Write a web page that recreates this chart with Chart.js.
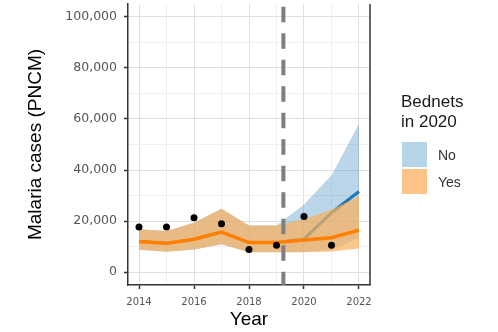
<!DOCTYPE html>
<html>
<head>
<meta charset="utf-8">
<script src="https://cdn.jsdelivr.net/npm/chart.js@4/dist/chart.umd.min.js"></script>
<style>
  html, body { margin: 0; padding: 0; background: #fff; }
  #wrap { position: relative; width: 498px; height: 332px; }
  #legend { position: absolute; left: 401px; top: 92px; font-family: "Liberation Sans", Arial, sans-serif; color: #1a1a1a; }
  #legend .title { font-size: 17px; line-height: 20px; }
  #legend .items { margin-top: 10px; }
  #legend .row { display: flex; align-items: center; height: 25px; margin-bottom: 2px; }
  #legend .key { width: 25px; height: 25px; margin-left: 1px; }
  #legend .lab { font-size: 14px; margin-left: 11px; color: #333; }
</style>
</head>
<body>
<div id="wrap">
  <canvas id="c" width="498" height="332"></canvas>
  <div id="legend">
    <div class="title">Bednets<br>in 2020</div>
    <div class="items">
      <div class="row"><div class="key" style="background:rgb(180,212,232)"></div><span class="lab">No</span></div>
      <div class="row"><div class="key" style="background:rgb(253,196,135)"></div><span class="lab">Yes</span></div>
    </div>
  </div>
</div>
<script>
// Annual model years and observed case counts
const years = [2014, 2015, 2016, 2017, 2018, 2019, 2020, 2021, 2022];
const observedYears = [2014, 2015, 2016, 2017, 2018, 2019, 2020, 2021];
const observedCases = [17700, 17700, 21300, 19000, 8900, 10600, 21800, 10600];

// Scenario "Yes": bednets distributed in 2020
const yesMid  = [12000, 11300, 12900, 15700, 11600, 11600, 12600, 13500, 16500];
const yesLow  = [8800, 8000, 8900, 11000, 7800, 7800, 7800, 8100, 9300];
const yesHigh = [16800, 16100, 19400, 24800, 18300, 18300, 20700, 24500, 29700];

// Scenario "No": no bednets in 2020
const noMid  = [12000, 11300, 12900, 15700, 11600, 11600, 13000, 23300, 31600];
const noLow  = [8800, 8000, 8900, 11000, 7800, 7800, 7900, 8600, 13500];
const noHigh = [16800, 16100, 19400, 24800, 18300, 18300, 26500, 38000, 58100];

// Axis ticks
const xTicks = [2014, 2015, 2016, 2017, 2018, 2019, 2020, 2021, 2022];
const xTickLabels = ['2014', '2016', '2018', '2020', '2022'];
const yTicks = [0, 10000, 20000, 30000, 40000, 50000, 60000, 70000, 80000, 90000, 100000];
const yTickLabels = ['0', '20,000', '40,000', '60,000', '80,000', '100,000'];

const interventionYear = 2019.25;
const xRange = [2013.6, 2022.4];
const yRange = [-5000, 105000];

const pts = (xs, ys) => xs.map((x, i) => ({ x, y: ys[i] }));

const BLUE = '#1f78b4';
const ORANGE = '#ff7f00';

const datasets = [
  { data: pts(years, noLow), borderWidth: 0, borderColor: 'transparent', pointRadius: 0, fill: false },
  { data: pts(years, noHigh), borderWidth: 0, borderColor: 'transparent', pointRadius: 0,
    fill: { target: 0 }, backgroundColor: 'rgba(31,120,180,0.3)' },
  { data: pts(years, noMid), borderColor: BLUE, borderWidth: 3, pointRadius: 0, fill: false },
  { data: pts(years, yesLow), borderWidth: 0, borderColor: 'transparent', pointRadius: 0, fill: false },
  { data: pts(years, yesHigh), borderWidth: 0, borderColor: 'transparent', pointRadius: 0,
    fill: { target: 3 }, backgroundColor: 'rgba(252,176,91,0.7)' },
  { data: pts(years, yesMid), borderColor: ORANGE, borderWidth: 3.5, pointRadius: 0, fill: false },
  { data: pts(observedYears, observedCases), showLine: false, pointRadius: 3.5,
    pointBackgroundColor: '#000', pointBorderColor: '#000', pointBorderWidth: 0 },
  { data: [{ x: interventionYear, y: yRange[1] }, { x: interventionYear, y: yRange[0] }],
    borderColor: '#7f7f7f', borderWidth: 4, borderDash: [15.5, 11], borderDashOffset: 23.8,
    pointRadius: 0, fill: false }
];
datasets.forEach((d, i) => { d.order = datasets.length - 1 - i; });

const isMajorX = v => xTickLabels.includes(String(v));
const isMajorY = v => yTickLabels.includes(v.toLocaleString('en-US'));

const panelBorder = {
  id: 'panelBorder',
  afterDraw(chart) {
    const { ctx, chartArea: a } = chart;
    ctx.save();
    ctx.strokeStyle = '#333';
    ctx.lineWidth = 1.5;
    ctx.beginPath();
    ctx.moveTo(a.right, a.top);
    ctx.lineTo(a.right, a.bottom);
    ctx.stroke();
    ctx.restore();
  }
};

new Chart(document.getElementById('c'), {
  type: 'line',
  data: { datasets },
  plugins: [panelBorder],
  options: {
    responsive: false,
    animation: false,
    devicePixelRatio: 1,
    layout: { padding: { top: 2.7, right: 128, left: 0, bottom: 0 } },
    elements: { line: { tension: 0 } },
    plugins: { legend: { display: false }, tooltip: { enabled: false } },
    scales: {
      x: {
        type: 'linear',
        min: xRange[0], max: xRange[1],
        afterBuildTicks: s => { s.ticks = xTicks.map(v => ({ value: v })); },
        afterFit: s => { s.height = 47; s.paddingLeft = 0; s.paddingRight = 0; },
        ticks: {
          autoSkip: false, maxRotation: 0, padding: 7,
          color: '#555', font: { family: 'DejaVu Sans', size: 10 },
          callback: v => isMajorX(v) ? String(v) : ''
        },
        grid: {
          color: c => isMajorX(c.tick.value) ? '#e0e0e0' : '#efefef',
          lineWidth: 1, tickLength: 4,
          tickColor: c => isMajorX(c.tick.value) ? '#333' : 'rgba(0,0,0,0)',
          tickWidth: 1.5
        },
        border: { display: true, color: '#333', width: 1.5 },
        title: {
          display: true, text: 'Year', color: '#000',
          font: { family: 'Liberation Sans', size: 19 },
          padding: { top: 0, bottom: 0.6 }
        }
      },
      y: {
        type: 'linear',
        min: yRange[0], max: yRange[1],
        afterBuildTicks: s => { s.ticks = yTicks.map(v => ({ value: v })); },
        afterFit: s => { s.width = 128; s.paddingTop = 0; s.paddingBottom = 0; },
        ticks: {
          autoSkip: false, padding: 7,
          color: '#555', font: { family: 'DejaVu Sans', size: 12.5 },
          callback: v => isMajorY(v) ? v.toLocaleString('en-US') : ''
        },
        grid: {
          color: c => isMajorY(c.tick.value) ? '#e0e0e0' : '#efefef',
          lineWidth: 1, tickLength: 4,
          tickColor: c => isMajorY(c.tick.value) ? '#333' : 'rgba(0,0,0,0)',
          tickWidth: 1.5
        },
        border: { display: true, color: '#333', width: 1.5 },
        title: {
          display: true, text: 'Malaria cases (PNCM)', color: '#000',
          font: { family: 'Liberation Sans', size: 19 },
          padding: { top: 24.6, bottom: 0 }
        }
      }
    }
  }
});
</script>
</body>
</html>
